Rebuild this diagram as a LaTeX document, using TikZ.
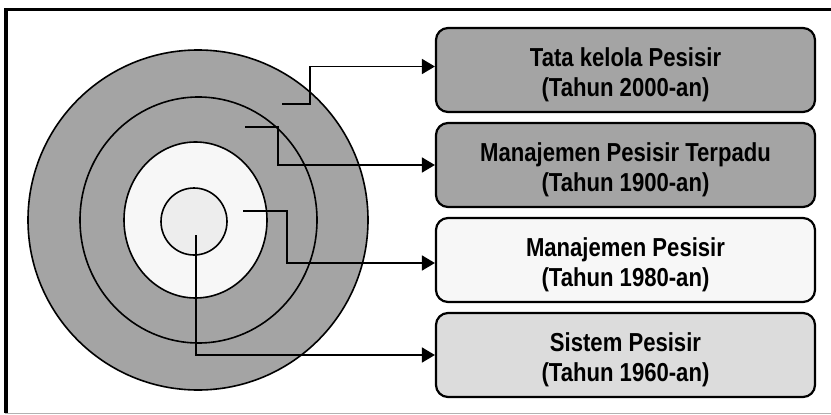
\documentclass[tikz,border=0pt]{standalone}
\usepackage{fontspec}
\newfontfamily\labelfont{Liberation Sans}[FakeStretch=0.85]
\usetikzlibrary{arrows.meta}
\definecolor{ringdark}{HTML}{A4A4A4}
\definecolor{ringlight}{HTML}{F7F7F7}
\definecolor{corefill}{HTML}{EDEDED}
\definecolor{boxlow}{HTML}{DCDCDC}
\tikzset{
  ring/.style={draw=black, line width=1.6pt},
  era/.style={draw=black, line width=2.2pt, rounded corners=12pt, minimum width=379pt,
    minimum height=84pt, inner sep=0pt},
  eratext/.style={align=center, inner sep=0pt, yshift=-5pt,
    font=\labelfont\bfseries\fontsize{26}{30}\selectfont},
  link/.style={draw=black, line width=1.8pt, -{Triangle[length=13pt,width=15pt]}}
}
\begin{document}
\begin{tikzpicture}[x=1pt,y=-1pt]
\useasboundingbox (0,0) rectangle (831,415);
% frame
\draw[line width=0.8pt, gray!60] (5,413) -- (831,413);
\draw[line width=3.5pt] (6,413) -- (6,9.5) -- (831,9.5);
% concentric rings
\draw[ring, fill=ringdark] (198,220) ellipse [x radius=170, y radius=170];
\draw[ring, fill=ringdark] (198.5,220) ellipse [x radius=118.5, y radius=123];
\draw[ring, fill=ringlight] (195.5,220) ellipse [x radius=71.5, y radius=78];
\draw[ring, fill=corefill] (194,221.5) ellipse [x radius=33, y radius=33.5];
% era boxes
\node[era, fill=ringdark, label={[eratext]center:{Tata kelola Pesisir\\(Tahun 2000-an)}}] (b1) at (625.5,70) {};
\node[era, fill=ringdark, label={[eratext]center:{Manajemen Pesisir Terpadu\\(Tahun 1900-an)}}] (b2) at (625.5,165) {};
\node[era, fill=ringlight, label={[eratext]center:{Manajemen Pesisir\\(Tahun 1980-an)}}] (b3) at (625.5,260) {};
\node[era, fill=boxlow, label={[eratext]center:{Sistem Pesisir\\(Tahun 1960-an)}}] (b4) at (625.5,355) {};
% connector origins inside the rings
\coordinate (c1) at (282,104);
\coordinate (c2) at (245,127);
\coordinate (c3) at (243,211);
\coordinate (c4) at (196,235);
\draw[link] (c1) -- ++(28,0) |- ([yshift=3.5pt]b1.west);
\draw[link] (c2) -- ++(33,0) |- (b2.west);
\draw[link] (c3) -- ++(44,0) |- ([yshift=-3pt]b3.west);
\draw[link] (c4) |- (b4.west);
\end{tikzpicture}
\end{document}
